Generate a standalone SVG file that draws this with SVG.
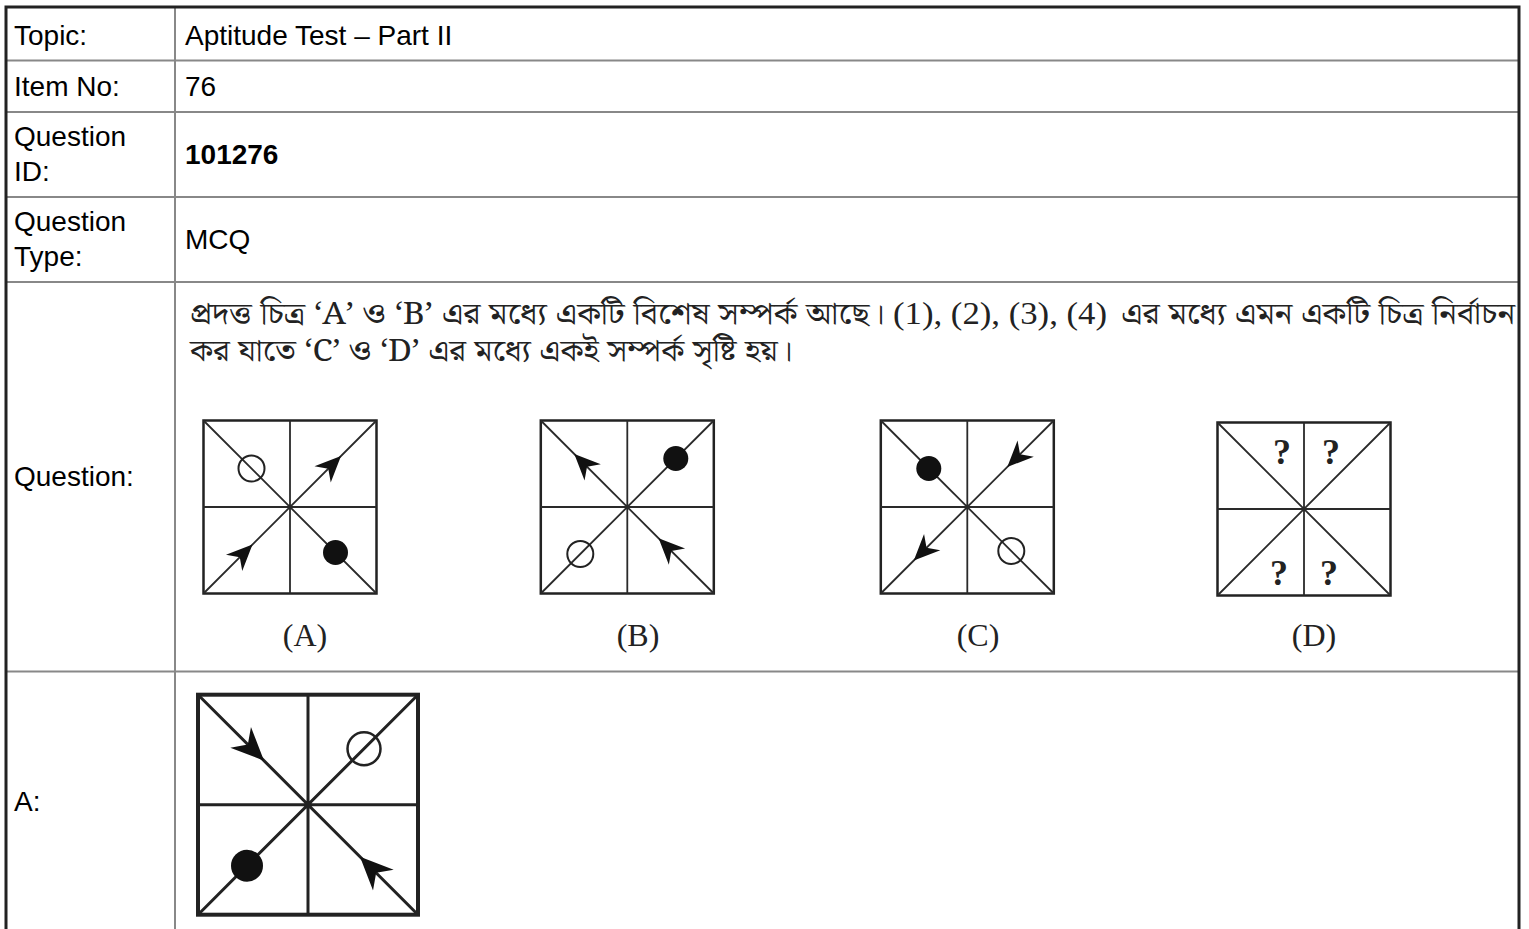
<svg xmlns="http://www.w3.org/2000/svg" xmlns:xlink="http://www.w3.org/1999/xlink" width="1529" height="929" viewBox="0 0 1529 929">
<style>
.lbl{font-family:"Liberation Sans",Arial,sans-serif;font-size:28px;fill:#000}
.bold{font-weight:bold}
.bn{font-family:"Noto Serif Bengali","Noto Sans Bengali","Lohit Bengali","FreeSerif","Liberation Serif",serif;font-size:30px;fill:#222}
.ser{font-family:"Liberation Serif","Times New Roman",serif;font-size:32px;fill:#222}
.qm{font-family:"Liberation Serif","Times New Roman",serif;font-size:36px;font-weight:bold;fill:#222;text-anchor:middle}
.outer{stroke:#222;stroke-width:3;fill:none}
.inner{stroke:#888;stroke-width:2;fill:none}
.box{fill:#fff;stroke:#222;stroke-width:2.5}
.gl{stroke:#2a2a2a;stroke-width:1.8;fill:none}
.open{fill:none;stroke:#222;stroke-width:2}
.fill{fill:#111}
.ah{fill:#111}
</style>
<defs>
<path id="ah" d="M0,0 L-26,-11.5 L-18,0 L-26,11.5 Z"/>
<g id="grid">
<rect x="-86.5" y="-86.5" width="173" height="173" class="box"/>
<path class="gl" d="M-86.5,-86.5 L86.5,86.5 M-86.5,86.5 L86.5,-86.5 M0,-86.5 V86.5 M-86.5,0 H86.5"/>
</g>
</defs>
<rect width="1529" height="929" fill="#fff"/>
<g id="table">
<path class="inner" d="M6,60.5 H1519 M6,112 H1519 M6,197 H1519 M6,282 H1519 M6,671.5 H1519 M175,7 V929"/>
<path class="outer" d="M6,929 V7 H1519 V929"/>
</g>
<g id="labels">
<text class="lbl" x="14" y="45">Topic:</text>
<text class="lbl" x="185" y="45">Aptitude Test – Part II</text>
<text class="lbl" x="14" y="96">Item No:</text>
<text class="lbl" x="185" y="96">76</text>
<text class="lbl" x="14" y="146">Question</text>
<text class="lbl" x="14" y="181">ID:</text>
<text class="lbl bold" x="185" y="164">101276</text>
<text class="lbl" x="14" y="231">Question</text>
<text class="lbl" x="14" y="266">Type:</text>
<text class="lbl" x="185" y="249">MCQ</text>
<text class="lbl" x="14" y="486">Question:</text>
<text class="lbl" x="14" y="811">A:</text>
</g>
<g id="question-text">
<text class="bn" x="190" y="324" textLength="695" lengthAdjust="spacingAndGlyphs">প্রদত্ত চিত্র ‘A’ ও ‘B’ এর মধ্যে একটি বিশেষ সম্পর্ক আছে।</text>
<text class="ser" x="893" y="324" textLength="214" lengthAdjust="spacingAndGlyphs">(1), (2), (3), (4)</text>
<text class="bn" x="1121" y="324" textLength="394" lengthAdjust="spacingAndGlyphs">এর মধ্যে এমন একটি চিত্র নির্বাচন</text>
<text class="bn" x="190" y="361" textLength="603" lengthAdjust="spacingAndGlyphs">কর যাতে ‘C’ ও ‘D’ এর মধ্যে একই সম্পর্ক সৃষ্টি হয়।</text>
</g>
<g id="figA" transform="translate(290,507)">
<use xlink:href="#grid"/>
<circle class="open" cx="-38.5" cy="-38.5" r="13"/>
<circle class="fill" cx="45.5" cy="45.5" r="12.5"/>
<use xlink:href="#ah" class="ah" transform="translate(51,-51) rotate(-45)"/>
<use xlink:href="#ah" class="ah" transform="translate(-37.5,37.5) rotate(-45)"/>
</g>
<g id="figB" transform="translate(627.3,507)">
<use xlink:href="#grid"/>
<circle class="fill" cx="48.5" cy="-48.5" r="12.5"/>
<circle class="open" cx="-47" cy="47" r="13"/>
<use xlink:href="#ah" class="ah" transform="translate(-53,-53) rotate(-135)"/>
<use xlink:href="#ah" class="ah" transform="translate(31.3,31.3) rotate(-135)"/>
</g>
<g id="figC" transform="translate(967.3,507)">
<use xlink:href="#grid"/>
<circle class="fill" cx="-38.5" cy="-38.5" r="12.5"/>
<circle class="open" cx="44" cy="44" r="13"/>
<use xlink:href="#ah" class="ah" transform="translate(40,-40) rotate(135)"/>
<use xlink:href="#ah" class="ah" transform="translate(-53.5,53.5) rotate(135)"/>
</g>
<g id="figD" transform="translate(1304,509)">
<use xlink:href="#grid"/>
<text class="qm" x="-22" y="-45">?</text>
<text class="qm" x="27" y="-45">?</text>
<text class="qm" x="-25" y="76">?</text>
<text class="qm" x="25" y="76">?</text>
</g>
<g id="captions">
<text class="ser" x="305" y="646" text-anchor="middle">(A)</text>
<text class="ser" x="638" y="646" text-anchor="middle">(B)</text>
<text class="ser" x="978" y="646" text-anchor="middle">(C)</text>
<text class="ser" x="1314" y="646" text-anchor="middle">(D)</text>
</g>
<g id="answer" transform="translate(308,804.7)">
<rect x="-110" y="-110" width="220" height="220" fill="#fff" stroke="#222" stroke-width="4"/>
<path stroke="#222" stroke-width="3" fill="none" d="M-110,-110 L110,110 M-110,110 L110,-110 M0,-110 V110 M-110,0 H110"/>
<circle fill="none" stroke="#222" stroke-width="2.5" cx="56" cy="-56" r="16.5"/>
<circle class="fill" cx="-61" cy="61" r="16"/>
<use xlink:href="#ah" class="ah" transform="translate(-44,-44) rotate(45) scale(1.27)"/>
<use xlink:href="#ah" class="ah" transform="translate(52,52) rotate(-135) scale(1.27)"/>
</g>
</svg>
